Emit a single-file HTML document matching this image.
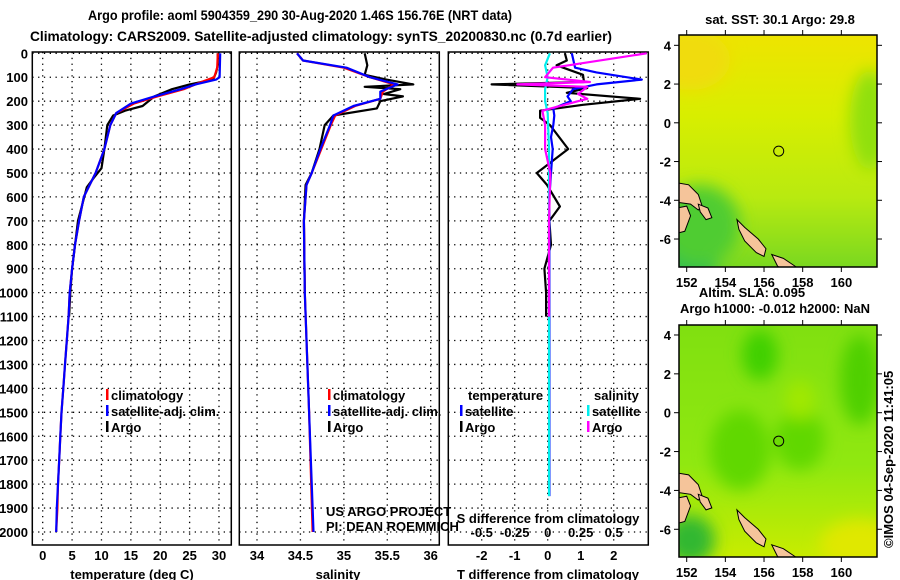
<!DOCTYPE html>
<html><head><meta charset="utf-8"><style>
html,body{margin:0;padding:0;background:#fff}
svg{display:block;font-family:"Liberation Sans",sans-serif}
.b{font-weight:bold;font-size:13px}
.t{font-weight:bold;font-size:14px}
</style></head><body>
<svg id="c" width="900" height="580" viewBox="0 0 900 580" xmlns="http://www.w3.org/2000/svg">
<defs>
<linearGradient id="g1" x1="0" y1="0" x2="0" y2="1">
<stop offset="0" stop-color="#eee400"/><stop offset="0.35" stop-color="#d8ee00"/><stop offset="0.7" stop-color="#b8ea10"/><stop offset="1" stop-color="#7ad820"/>
</linearGradient>
<linearGradient id="g2" x1="0" y1="0" x2="0" y2="1">
<stop offset="0" stop-color="#80e010"/><stop offset="0.6" stop-color="#90e810"/><stop offset="1" stop-color="#c8ec00"/>
</linearGradient>
<filter id="bl"><feGaussianBlur stdDeviation="8"/></filter>
<clipPath id="m1c"><rect x="679" y="35" width="198" height="232"/></clipPath>
<clipPath id="m2c"><rect x="679" y="325" width="198" height="232"/></clipPath>
</defs>
<g id="root"></g>
</svg>
<script>
// ---- data ----
const depthTicks=[0,100,200,300,400,500,600,700,800,900,1000,1100,1200,1300,1400,1500,1600,1700,1800,1900,2000];
const tempTicks=[0,5,10,15,20,25,30];
const salTicks=[34,34.5,35,35.5,36];
const salTickLabels=["34","34.5","35","35.5","36"];
const tdTicks=[-2,-1,0,1,2];
const sdTicks=[-0.5,-0.25,0,0.25,0.5];
const sdTickLabels=["-0.5","-0.25","0","0.25","0.5"];
const lonTicks=[152,154,156,158,160];
const latTicks=[4,2,0,-2,-4,-6];

const tempClimDepth=[0,60,100,120,150,180,210,250,300,400,500,550,600,700,800,900,1000,1100,1200,1300,1400,1500,1600,1700,1800,1900,2000];
const tempClim=[29.8,29.7,29.2,27,24,19.5,15.5,12.5,11.5,10.5,9,8,7,6.2,5.5,5,4.6,4.4,4.1,3.8,3.5,3.2,3,2.8,2.6,2.5,2.3];
const tempSatDepth=[0,100,110,130,150,180,210,250,300,400,500,550,600,700,800,900,1000,1100,1200,1300,1400,1500,1600,1700,1800,1900,2000];
const tempSat=[30.2,30.1,29.5,26,23.5,19,15,12.5,11.5,10.5,9,8,7,6.2,5.5,5,4.6,4.4,4.1,3.8,3.5,3.2,3,2.8,2.6,2.4,2.3];
const tempArgoDepth=[0,50,80,110,130,150,180,220,240,260,300,400,480,520,560,700,900,1000,1100];
const tempArgo=[29.8,29.8,29.5,29,25,22,19,17,14,12,11,10.5,10,8.7,7.5,6,5,4.7,4.5];

const salClimDepth=[0,30,60,100,130,160,190,220,260,300,400,500,550,700,1000,1500,2000];
const salClim=[34.46,34.53,35.0,35.3,35.58,35.45,35.42,35.13,34.9,34.85,34.74,34.63,34.57,34.54,34.55,34.6,34.64];
const salSatDepth=[0,30,60,100,130,160,190,220,260,300,400,500,550,700,1000,1500,2000];
const salSat=[34.46,34.53,35.03,35.3,35.62,35.42,35.42,35.11,34.88,34.84,34.73,34.63,34.57,34.54,34.55,34.6,34.65];
const salArgoDepth=[0,50,90,110,130,140,150,170,180,200,230,260,300,400,500,550,700,1000];
const salArgo=[35.24,35.27,35.24,35.49,35.8,35.24,35.65,35.46,35.68,35.42,35.38,34.88,34.78,34.72,34.63,34.56,34.54,34.55];

const tdSatDepth=[0,60,80,110,130,150,180,200,230,260,300,350,400,500,600,700,1100,1500,1850];
const tdSat=[0.73,0.83,1.48,2.85,1.48,0.77,0.6,0.7,0.17,0.2,0.17,0.1,0.15,0.1,0.05,0.05,0.05,0.05,0.05];
const tdArgoDepth=[0,30,50,90,120,130,145,165,190,215,240,270,300,400,500,550,640,700,800,900,1000,1100];
const tdArgo=[0.52,0.58,0.27,1.07,1.1,-1.7,1.2,0.58,2.8,1.07,-0.23,-0.23,0.07,0.62,-0.33,-0.02,0.37,0.05,0.1,-0.1,-0.05,-0.05];
const sdSatDepth=[0,50,100,150,200,250,400,1000,1850];
const sdSat=[0.017,-0.02,0,-0.02,-0.02,0,0.01,0.01,0.01];
const sdArgoDepth=[0,60,100,120,130,140,170,190,200,240,300,400,500,700,1100];
const sdArgo=[0.75,0.04,-0.02,0.32,-0.23,0.3,0.23,0.3,0.23,-0.04,-0.02,-0.02,0.02,0.01,0.01];

const argoLon=156.76, argoLat=-1.46;

// ---- scales ----
const yD=d=>53.3+d*(532-53.3)/2000;
const xT=t=>42.7+t*(219-42.7)/30;
const xS=s=>257+(s-34)*(430.7-257)/2;
const xTD=v=>547.7+v*33;
const xSD=v=>547.7+v*132;
const m1x=l=>686.7+(l-152)*19.33, m1y=a=>122.8-a*19.37;
const m2y=a=>412.7-a*19.43;

const NS="http://www.w3.org/2000/svg";
const rootG=document.getElementById('root');
function mk(tag,at,parent,t){const e=document.createElementNS(NS,tag);for(const k in at)e.setAttribute(k,at[k]);if(t!==undefined)e.textContent=t;(parent||rootG).appendChild(e);return e;}
function txt(x,y,s,cls,anchor,name,extra){const e=mk('text',Object.assign({x:x,y:y,class:cls||'b','text-anchor':anchor||'middle'},extra||{}),rootG,s);

return e;}

txt(300,20,"Argo profile: aoml 5904359_290 30-Aug-2020 1.46S 156.76E (NRT data)","t","middle","title-line-1",{textLength:424,lengthAdjust:'spacingAndGlyphs'});
txt(321,41,"Climatology: CARS2009. Satellite-adjusted climatology: synTS_20200830.nc (0.7d earlier)","t","middle","title-line-2",{textLength:582,lengthAdjust:'spacingAndGlyphs'});

const panels=[{x0:32.3,x1:231.3,name:'temperature-panel'},{x0:239.3,x1:439.3,name:'salinity-panel'},{x0:448.3,x1:648.3,name:'difference-panel'}];
const pTop=52,pBot=545;
panels.forEach((p,i)=>{
  const g=mk('g',{});
  
  
  depthTicks.forEach(d=>{const l=mk('line',{x1:p.x0,x2:p.x1,y1:yD(d),y2:yD(d),stroke:'#000','stroke-width':1.3,'stroke-dasharray':'1.3 4.5'},g);
    
    });
  const xs = i==0?tempTicks.map(xT):i==1?salTicks.map(xS):tdTicks.map(xTD);
  xs.forEach(x=>{const l=mk('line',{x1:x,x2:x,y1:pTop,y2:pBot,stroke:'#000','stroke-width':1.3,'stroke-dasharray':'1.3 4.5'},g);
    
    });
  const r=mk('rect',{x:p.x0,y:pTop,width:p.x1-p.x0,height:pBot-pTop,fill:'none',stroke:'#000','stroke-width':1.5},g);
  
  
});
depthTicks.forEach(d=>{txt(28,yD(d)+5,String(d),"b","end","depth-tick-label");});
tempTicks.forEach(t=>txt(xT(t),560,String(t),"b","middle","temperature-tick-label"));
salTicks.forEach((s,i)=>txt(xS(s),560,salTickLabels[i],"b","middle","salinity-tick-label"));
tdTicks.forEach(t=>txt(xTD(t),560,String(t),"b","middle","t-diff-tick-label"));
sdTicks.forEach((s,i)=>txt(xSD(s),537,sdTickLabels[i],"b","middle","s-diff-tick-label"));
txt(132,579,"temperature (deg C)","b","middle","temperature-axis-title");
txt(338,579,"salinity","b","middle","salinity-axis-title");
txt(548,579,"T difference from climatology","b","middle","t-diff-axis-title");
txt(548,523,"S difference from climatology","b","middle","s-diff-axis-title");

function line(xsArr,ds,xf,color,name,w){
  const pts=xsArr.map((v,i)=>xf(v).toFixed(1)+','+yD(ds[i]).toFixed(1)).join(' ');
  const e=mk('polyline',{points:pts,fill:'none',stroke:color,'stroke-width':w||2.2,'stroke-linejoin':'round'});
  
  
}
line(tempArgo,tempArgoDepth,xT,'#000','temp-argo-line');
line(tempClim,tempClimDepth,xT,'#ff0000','temp-climatology-line');
line(tempSat,tempSatDepth,xT,'#0000ff','temp-satellite-line');
line(salArgo,salArgoDepth,xS,'#000','sal-argo-line');
line(salClim,salClimDepth,xS,'#ff0000','sal-climatology-line');
line(salSat,salSatDepth,xS,'#0000ff','sal-satellite-line');
line(tdArgo,tdArgoDepth,xTD,'#000','t-diff-argo-line');
line(tdSat,tdSatDepth,xTD,'#0000ff','t-diff-satellite-line');
line(sdSat,sdSatDepth,xSD,'#00eeee','s-diff-satellite-line');
line(sdArgo,sdArgoDepth,xSD,'#ff00ff','s-diff-argo-line');

function leg(x,y,color,label,name){
  const m=mk('rect',{x:x,y:y-11,width:2.5,height:11,fill:color});
  
  
  txt(x+5,y,label,"b","start",name);
}
leg(106,400,'#ff0000','climatology','legend-climatology');
leg(106,416,'#0000ff','satellite-adj. clim.','legend-satellite-adj');
leg(106,432,'#000','Argo','legend-argo');
leg(328,400,'#ff0000','climatology','legend-sal-climatology');
leg(328,416,'#0000ff','satellite-adj. clim.','legend-sal-satellite-adj');
leg(328,432,'#000','Argo','legend-sal-argo');
txt(468,400,"temperature","b","start","legend-temperature-heading");
leg(460,416,'#0000ff','satellite','legend-t-satellite');
leg(460,432,'#000','Argo','legend-t-argo');
txt(594,400,"salinity","b","start","legend-salinity-heading");
leg(587,416,'#00eeee','satellite','legend-s-satellite');
leg(587,432,'#ff00ff','Argo','legend-s-argo');
txt(326,516,"US ARGO PROJECT","","start","project-credit",{'font-size':'13px'});
txt(326,531,"PI: DEAN ROEMMICH","","start","pi-credit",{'font-size':'13px'});

function drawMap(yOff,ytf,grad,name,blobs,clip){
  const g=mk('g',{'clip-path':'url(#'+clip+')'});
  
  
  mk('rect',{x:679,y:yOff,width:198,height:232,fill:'url(#'+grad+')'},g);
  const bg=mk('g',{filter:'url(#bl)'},g);
  blobs.forEach(b=>mk('ellipse',{cx:b[0],cy:b[1],rx:b[2],ry:b[3],fill:b[4]},bg));
  const land=[[[151.5,-3.1],[152.1,-3.2],[152.6,-3.7],[152.8,-4.3],[152.6,-4.5],[152.2,-4.2],[151.5,-4.1]],[[151.5,-4.4],[152.0,-4.3],[152.2,-4.8],[151.9,-5.6],[151.5,-5.7]],[[152.6,-4.2],[153.1,-4.4],[153.3,-4.9],[153.0,-5.0],[152.7,-4.6]],[[154.6,-5.0],[155.0,-5.4],[155.7,-6.0],[156.1,-6.5],[156.0,-6.9],[155.6,-6.7],[155.0,-6.1],[154.7,-5.5]],[[156.4,-6.8],[157.0,-7.0],[157.6,-7.4],[157.9,-7.6],[157.2,-7.7],[156.7,-7.4]]];
  land.forEach(poly=>{const e=mk('polygon',{points:poly.map(p=>m1x(p[0])+','+ytf(p[1])).join(' '),fill:'#f5c49a',stroke:'#000','stroke-width':1},g);
    
    });
  const c=mk('circle',{cx:m1x(argoLon),cy:ytf(argoLat),r:5,fill:'none',stroke:'#000','stroke-width':1},g);
  
  
  const f=mk('rect',{x:679,y:yOff,width:198,height:232,fill:'none',stroke:'#000','stroke-width':1.5});
  
  
  lonTicks.forEach(l=>{mk('line',{x1:m1x(l),x2:m1x(l),y1:yOff+232,y2:yOff+237,stroke:'#000'});mk('line',{x1:m1x(l),x2:m1x(l),y1:yOff,y2:yOff-5,stroke:'#000'});
    txt(m1x(l),yOff+252,String(l),"b","middle","map-lon-label");});
  latTicks.forEach(a=>{mk('line',{x1:679,x2:674,y1:ytf(a),y2:ytf(a),stroke:'#000'});mk('line',{x1:877,x2:882,y1:ytf(a),y2:ytf(a),stroke:'#000'});
    txt(671,ytf(a)+5,String(a),"b","end","map-lat-label");});
}
drawMap(35,m1y,'g1','sst-map',[[690,250,30,40,'#30c050'],[700,225,40,40,'#50cc30'],[870,120,20,50,'#90e010'],[690,60,40,30,'#f0dc10']],'m1c');
drawMap(325,m2y,'g2','sla-map',[[760,355,18,25,'#40d000'],[740,450,30,40,'#60d800'],[800,440,25,30,'#60d800'],[860,380,20,45,'#50d000'],[690,540,25,25,'#30b830'],[860,545,40,25,'#e0e800'],[800,400,15,20,'#a0e800']],'m2c');
txt(780,24,"sat. SST: 30.1 Argo: 29.8","b","middle","sst-map-title");
txt(752,297,"Altim. SLA: 0.095","b","middle","sla-map-title");
txt(775,313,"Argo h1000: -0.012 h2000: NaN","b","middle","argo-height-title");
txt(893,548,"©IMOS 04-Sep-2020 11:41:05","","start","timestamp-credit",{'font-size':'12px',transform:'rotate(-90 893 548)'});
</script>
</body></html>
